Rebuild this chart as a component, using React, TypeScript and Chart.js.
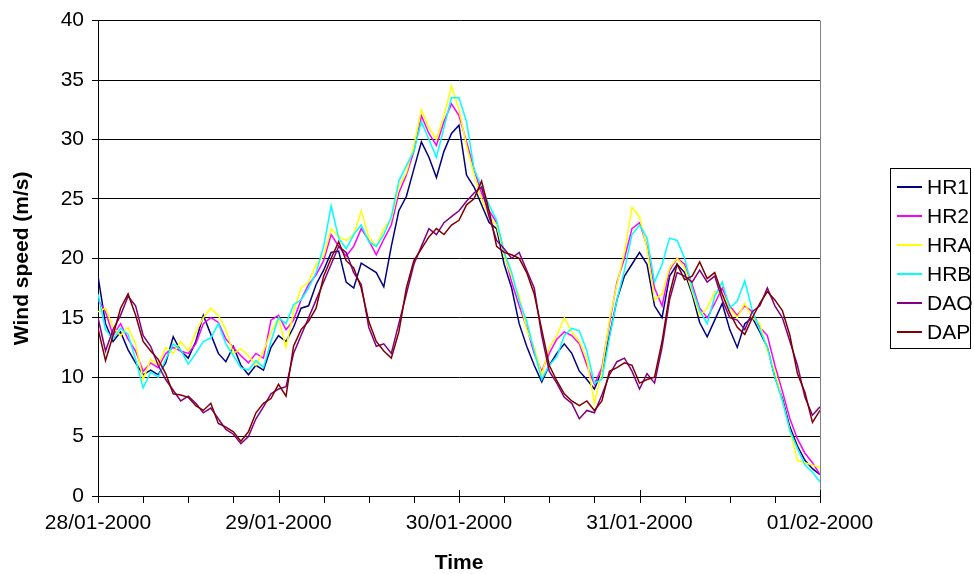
import React, { useEffect, useRef } from 'react';
import { Chart, registerables } from 'chart.js';

Chart.register(...registerables);

const FONT = '"Liberation Sans", Arial, Helvetica, sans-serif';

const DAY_LABELS = ['28/01-2000', '29/01-2000', '30/01-2000', '31/01-2000', '01/02-2000'];
const SERIES_NAMES = ['HR1', 'HR2', 'HRA', 'HRB', 'DAO', 'DAP'];
const SERIES_COLORS = ['#000080', '#FF00FF', '#FFFF00', '#00FFFF', '#800080', '#800000'];
const Y_TITLE = 'Wind speed (m/s)';
const X_TITLE = 'Time';

// Hourly readings, 28/01-2000 00:00 to 01/02-2000 00:00 (97 values each)
const HR1 = [18.5, 14.5, 13.0, 13.8, 12.3, 11.2, 10.2, 10.6, 10.2, 11.2, 13.4, 12.2, 11.6, 13.0, 15.2, 13.6, 12.0, 11.3, 12.6, 11.0, 10.2, 11.0, 10.6, 12.5, 13.5, 13.0, 14.2, 15.8, 16.0, 17.8, 19.0, 20.5, 20.6, 18.0, 17.5, 19.6, 19.2, 18.8, 17.6, 21.0, 24.0, 25.2, 27.5, 29.8, 28.5, 26.8, 29.0, 30.5, 31.2, 27.0, 26.0, 24.5, 23.0, 22.5, 19.5, 17.5, 14.5, 12.6, 11.0, 9.6, 11.0, 12.0, 12.8, 12.0, 10.5, 9.8, 9.0, 10.5, 13.5, 16.5, 18.5, 19.5, 20.5, 19.5, 16.0, 15.0, 18.5, 19.5, 18.8, 17.0, 14.6, 13.4, 14.8, 16.2, 14.0, 12.5, 14.5, 15.0, 13.8, 12.5, 10.0, 8.2, 5.8, 4.2, 3.0, 2.3, 1.8];
const HR2 = [16.5, 15.5, 13.5, 14.5, 13.2, 12.2, 10.5, 11.2, 10.8, 12.0, 12.5, 12.2, 12.0, 12.8, 14.5, 15.0, 14.6, 13.2, 12.5, 11.8, 11.2, 12.0, 11.6, 14.8, 15.2, 14.0, 14.8, 16.5, 17.8, 18.6, 19.8, 22.0, 21.0, 20.2, 21.0, 22.5, 21.5, 20.3, 21.6, 22.8, 25.5, 27.0, 29.0, 32.0, 30.5, 29.5, 31.5, 33.0, 32.0, 29.8, 27.5, 25.5, 24.0, 23.0, 20.5, 18.0, 16.0, 14.2, 12.0, 10.5, 12.0, 13.2, 13.8, 13.5, 12.8, 11.0, 9.4, 10.8, 14.5, 18.0, 20.0, 22.5, 23.0, 21.0, 17.5, 16.0, 19.0, 20.0, 19.5, 17.8, 15.8, 15.0, 16.2, 17.5, 16.0, 15.2, 16.0, 15.5, 14.2, 13.5, 11.0, 8.8, 6.5, 4.8, 3.6, 2.8, 1.8];
const HRA = [15.5, 15.8, 14.2, 13.5, 14.2, 12.8, 9.8, 11.5, 11.0, 12.5, 12.0, 13.0, 12.2, 13.8, 15.0, 15.8, 15.2, 14.0, 12.0, 12.4, 11.8, 11.0, 12.2, 13.8, 15.0, 12.5, 15.5, 17.5, 18.0, 19.5, 20.2, 22.5, 21.8, 21.5, 22.0, 24.0, 21.8, 21.0, 22.5, 23.3, 26.0, 27.2, 29.5, 32.5, 31.0, 30.0, 32.0, 34.5, 32.5, 29.5, 27.0, 25.0, 23.5, 22.8, 20.2, 18.5, 16.8, 14.0, 12.5, 10.2, 12.5, 13.5, 15.0, 13.8, 13.0, 11.5, 7.8, 10.5, 14.8, 17.8, 20.5, 24.3, 23.5, 20.8, 16.5, 17.0, 19.2, 20.0, 19.2, 17.2, 15.2, 15.8, 17.2, 17.0, 15.8, 15.0, 16.2, 15.0, 14.5, 12.2, 10.5, 8.0, 5.5, 3.0, 2.8, 2.6, 2.4];
const HRB = [17.0, 14.0, 13.2, 14.1, 13.6, 11.5, 9.1, 10.4, 10.0, 11.5, 12.8, 12.3, 11.1, 12.0, 13.0, 13.3, 14.5, 12.8, 11.8, 10.8, 10.6, 11.4, 10.8, 13.0, 15.0, 14.5, 16.1, 16.5, 17.5, 18.8, 21.0, 24.4, 21.7, 20.8, 22.0, 22.8, 21.4, 21.0, 22.0, 23.5, 26.5, 27.8, 29.0, 31.5, 30.0, 28.5, 31.0, 33.5, 33.5, 31.5, 27.5, 26.0, 24.5, 23.2, 20.5, 18.8, 16.4, 14.7, 12.2, 9.8, 11.0, 11.7, 13.5, 14.1, 13.9, 12.2, 9.5, 9.8, 13.3, 16.5, 19.0, 22.0, 22.8, 21.7, 18.0, 19.5, 21.7, 21.5, 20.0, 17.5, 15.6, 14.5, 16.8, 18.0, 15.8, 16.4, 18.1, 15.6, 14.0, 12.5, 10.0, 8.0, 5.5, 4.0, 2.6, 2.0, 1.2];
const DAO = [15.0, 12.2, 14.0, 15.2, 16.8, 16.0, 13.5, 12.6, 11.0, 9.8, 8.9, 8.0, 8.4, 7.8, 7.0, 7.4, 6.5, 5.6, 5.2, 4.4, 5.0, 6.5, 7.5, 8.6, 9.0, 9.2, 12.0, 13.5, 15.0, 16.5, 18.0, 19.5, 21.0, 20.5, 18.8, 17.8, 14.2, 12.6, 12.8, 12.0, 14.5, 17.0, 19.5, 21.0, 22.5, 22.0, 23.0, 23.5, 24.0, 24.8, 25.5, 26.0, 23.5, 21.5, 20.8, 20.0, 20.5, 19.0, 17.5, 13.5, 10.5, 9.5, 8.3, 7.8, 6.5, 7.2, 7.0, 8.5, 10.2, 11.3, 11.6, 10.5, 9.0, 10.3, 9.5, 12.5, 16.5, 18.8, 18.5, 18.0, 19.0, 18.0, 18.5, 16.5, 15.0, 14.8, 14.0, 15.5, 16.0, 17.5, 16.0, 15.0, 13.0, 11.0, 8.3, 6.8, 7.5];
const DAP = [14.1, 11.4, 13.5, 15.8, 17.0, 15.2, 13.0, 12.2, 11.5, 10.3, 8.6, 8.5, 8.3, 7.6, 7.2, 7.8, 6.1, 5.8, 5.4, 4.6, 5.4, 7.0, 7.8, 8.2, 9.4, 8.4, 12.6, 14.0, 14.7, 15.8, 18.5, 20.0, 21.4, 19.8, 19.2, 17.5, 14.7, 13.0, 12.2, 11.6, 13.8, 17.5, 19.8, 20.8, 21.8, 22.5, 22.0, 22.8, 23.2, 24.5, 25.0, 26.5, 24.0, 21.0, 20.5, 20.3, 20.0, 18.8, 17.0, 14.0, 11.0, 9.7, 8.6, 8.0, 7.6, 8.0, 7.2, 8.0, 10.5, 10.8, 11.2, 11.0, 9.5, 9.8, 10.0, 13.0, 17.0, 19.5, 18.2, 18.5, 19.7, 18.3, 18.8, 17.0, 15.4, 14.2, 13.6, 15.0, 16.2, 17.2, 16.5, 15.6, 13.5, 10.3, 8.7, 6.2, 7.2];

const SERIES = [HR1, HR2, HRA, HRB, DAO, DAP];

const extrasPlugin = {
  id: 'extras',
  beforeDatasetsDraw(chart: any) {
    const { ctx, chartArea: a } = chart;
    ctx.save();
    ctx.strokeStyle = '#808080';
    ctx.lineWidth = 1;
    const rx = Math.round(a.right) + 0.5;
    ctx.beginPath();
    ctx.moveTo(rx, a.top);
    ctx.lineTo(rx, a.bottom);
    ctx.stroke();
    ctx.restore();
  },
  afterDraw(chart: any) {
    const { ctx, chartArea: a } = chart;
    const xs = chart.scales.x;
    ctx.save();
    // x-axis tick marks (major every day, minor every 6 hours)
    ctx.strokeStyle = '#000';
    ctx.lineWidth = 1;
    ctx.beginPath();
    for (let h = 0; h <= 96; h += 6) {
      const px = Math.round(xs.getPixelForValue(h)) + 0.5;
      const major = h % 24 === 0;
      ctx.moveTo(px, major ? a.bottom - 6 : a.bottom);
      ctx.lineTo(px, a.bottom + 7);
    }
    ctx.stroke();

    // legend
    const bx = 890.5, by = 168.5, bw = 80, bh = 180;
    ctx.fillStyle = '#fff';
    ctx.fillRect(bx, by, bw, bh);
    ctx.strokeStyle = '#000';
    ctx.strokeRect(bx, by, bw, bh);
    ctx.font = `21px ${FONT}`;
    ctx.textBaseline = 'middle';
    ctx.textAlign = 'left';
    chart.data.datasets.forEach((ds: any, i: number) => {
      const yy = 187 + i * 29;
      ctx.strokeStyle = ds.borderColor;
      ctx.lineWidth = 2;
      ctx.beginPath();
      ctx.moveTo(897, yy);
      ctx.lineTo(922, yy);
      ctx.stroke();
      ctx.fillStyle = '#000';
      ctx.fillText(ds.label, 927, yy + 1);
    });
    ctx.restore();
  },
};

export default function App() {
  const ref = useRef<HTMLCanvasElement>(null);

  useEffect(() => {
    document.body.style.margin = '0';
    const canvas = ref.current;
    if (!canvas) return;
    const datasets = SERIES.map((arr, i) => ({
      label: SERIES_NAMES[i],
      data: arr.map((v, h) => ({ x: h, y: v })),
      borderColor: SERIES_COLORS[i],
      backgroundColor: SERIES_COLORS[i],
      borderWidth: 1.5,
      pointRadius: 0,
      tension: 0,
      fill: false,
      order: SERIES.length - 1 - i,
    }));
    const chart = new Chart(canvas, {
      type: 'line',
      data: { datasets },
      options: {
        animation: false,
        responsive: false,
        devicePixelRatio: 1,
        layout: { padding: { left: 0, top: 18, right: 154, bottom: 0 } },
        plugins: { legend: { display: false }, tooltip: { enabled: false } },
        scales: {
          x: {
            type: 'linear',
            min: 0,
            max: 96,
            afterFit: (s: any) => { s.height = 78; },
            ticks: {
              stepSize: 24,
              autoSkip: false,
              maxRotation: 0,
              minRotation: 0,
              color: '#000',
              padding: 8,
              font: { family: FONT, size: 21 },
              callback: (v: any) => DAY_LABELS[Math.round(Number(v) / 24)] ?? '',
            },
            grid: { display: false, drawTicks: true, tickLength: 7 },
            border: { display: true, color: '#000', width: 1 },
            title: {
              display: true,
              text: X_TITLE,
              color: '#000',
              font: { family: FONT, size: 21, weight: 'bold', lineHeight: 1 },
              padding: { top: 0, bottom: 0 },
            },
          },
          y: {
            min: 0,
            max: 40,
            afterFit: (s: any) => { s.width = 98; },
            ticks: {
              stepSize: 5,
              color: '#000',
              padding: 8,
              font: { family: FONT, size: 21 },
            },
            grid: { color: '#000', lineWidth: 1, tickLength: 6 },
            border: { display: true, color: '#000', width: 1 },
            title: {
              display: true,
              text: Y_TITLE,
              color: '#000',
              font: { family: FONT, size: 21, weight: 'bold', lineHeight: 1 },
              padding: { top: 12, bottom: 0 },
            },
          },
        },
      },
      plugins: [extrasPlugin],
    } as any);
    return () => chart.destroy();
  }, []);

  return (
    <div style={{ width: 974, height: 574 }}>
      <canvas ref={ref} width={974} height={574} style={{ display: 'block', width: 974, height: 574 }} />
    </div>
  );
}
